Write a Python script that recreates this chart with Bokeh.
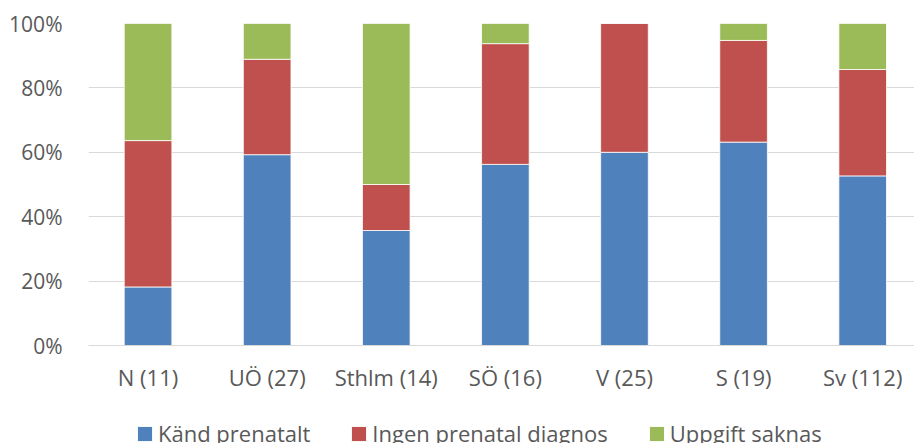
from bokeh.plotting import figure
from bokeh.layouts import column
from bokeh.models import (Range1d, FixedTicker, NumeralTickFormatter, Legend,
                          LegendItem, ColumnDataSource)
from bokeh.embed import file_html
from bokeh.resources import INLINE

# Region codes and number of cases per region
regions = ["N", "UÖ", "Sthlm", "SÖ", "V", "S", "Sv"]
known_prenatal = [2, 16, 5, 9, 15, 12, 59]
no_prenatal = [5, 8, 2, 6, 10, 6, 37]
missing = [4, 3, 7, 1, 0, 1, 16]

series_names = ["Känd prenatalt", "Ingen prenatal diagnos", "Uppgift saknas"]
colors = ["#4F81BD", "#C0504D", "#9BBB59"]
y_ticks = [0, 0.2, 0.4, 0.6, 0.8, 1.0]

totals = [a + b + c for a, b, c in zip(known_prenatal, no_prenatal, missing)]
labels = [f"{r} ({t})" for r, t in zip(regions, totals)]
idx = list(range(len(regions)))

src = ColumnDataSource(dict(
    x=idx,
    known=[v / t for v, t in zip(known_prenatal, totals)],
    none=[v / t for v, t in zip(no_prenatal, totals)],
    miss=[v / t for v, t in zip(missing, totals)],
))

FONT = "Open Sans"
TXT = "#595959"
GRID = "#D9D9D9"

# --- main stacked bar chart ---
p = figure(width=914, height=400, output_backend="svg", toolbar_location=None,
           x_range=Range1d(-0.5, 6.435), y_range=Range1d(0, 1),
           min_border_left=88, min_border_right=0, min_border_top=23,
           min_border_bottom=55)
p.outline_line_color = None
p.background_fill_color = "white"
p.border_fill_color = "white"

p.vbar_stack(["known", "none", "miss"], x="x", width=0.4, source=src,
             color=colors, line_color="white", line_width=0.8)

p.xaxis.ticker = FixedTicker(ticks=idx)
p.xaxis.major_label_overrides = {i: lab for i, lab in enumerate(labels)}
p.yaxis.ticker = FixedTicker(ticks=y_ticks)
p.yaxis.formatter = NumeralTickFormatter(format="0%")
for ax in (p.xaxis, p.yaxis):
    ax.major_tick_line_color = None
    ax.minor_tick_line_color = None
    ax.major_label_text_font = FONT
    ax.major_label_text_color = TXT
p.yaxis.major_label_text_font_size = "21px"
p.xaxis.major_label_text_font_size = "22px"
p.yaxis.axis_line_color = None
p.xaxis.axis_line_color = GRID
p.xaxis.axis_line_width = 1
p.yaxis.major_label_standoff = 20
p.xaxis.major_label_standoff = 10

p.xgrid.grid_line_color = None
p.ygrid.ticker = FixedTicker(ticks=y_ticks)
p.ygrid.grid_line_color = GRID
p.ygrid.grid_line_width = 1

# --- legend strip underneath (its frame lines up with the chart frame) ---
lf = figure(width=914, height=43, output_backend="svg", toolbar_location=None,
            x_axis_type=None, y_axis_type=None, min_border=0,
            x_range=Range1d(0, 1), y_range=Range1d(0, 1))
lf.outline_line_color = None
lf.grid.visible = False
# off-range placeholder bars that only serve as legend keys
key_renderers = [lf.vbar(x=[-5], top=[0], width=0.4, color=c, line_color="white")
                 for c in colors]

legend = Legend(
    items=[LegendItem(label=n, renderers=[r]) for n, r in zip(series_names, key_renderers)],
    orientation="horizontal", location=(47, -5),
    label_text_font=FONT, label_text_font_size="22px", label_text_color=TXT,
    glyph_width=19, glyph_height=19, label_standoff=4, spacing=39,
    padding=0, margin=0, border_line_color=None, background_fill_alpha=0,
)
lf.add_layout(legend, "center")

layout = column(p, lf, spacing=0)
open("out.html", "w").write(file_html(layout, INLINE))
